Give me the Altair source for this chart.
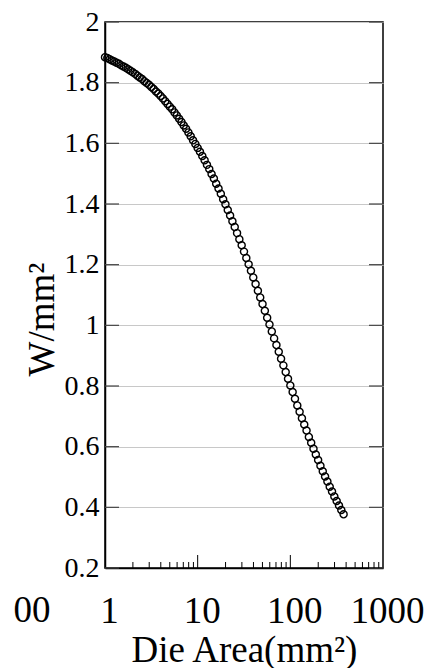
import altair as alt
import pandas as pd

# Die area (mm^2)
area = [
    1.000, 1.059, 1.122, 1.189, 1.259, 1.334, 1.413, 1.496, 1.585, 1.679,
    1.778, 1.884, 1.995, 2.113, 2.239, 2.371, 2.512, 2.661, 2.818, 2.985,
    3.162, 3.350, 3.548, 3.758, 3.981, 4.217, 4.467, 4.732, 5.012, 5.309,
    5.623, 5.957, 6.310, 6.683, 7.079, 7.499, 7.943, 8.414, 8.913, 9.441,
    10.00, 10.59, 11.22, 11.89, 12.59, 13.34, 14.13, 14.96, 15.85, 16.79,
    17.78, 18.84, 19.95, 21.13, 22.39, 23.71, 25.12, 26.61, 28.18, 29.85,
    31.62, 33.50, 35.48, 37.58, 39.81, 42.17, 44.67, 47.32, 50.12, 53.09,
    56.23, 59.57, 63.10, 66.83, 70.79, 74.99, 79.43, 84.14, 89.13, 94.41,
    100.0, 105.9, 112.2, 118.9, 125.9, 133.4, 141.3, 149.6, 158.5, 167.9,
    177.8, 188.4, 199.5, 211.3, 223.9, 237.1, 251.2, 266.1, 281.8, 298.5,
    316.2, 335.0, 354.8, 375.8,
]

# Power density (W/mm^2)
power = [
    1.884, 1.881, 1.877, 1.873, 1.870, 1.866, 1.862, 1.857, 1.853, 1.849,
    1.844, 1.839, 1.834, 1.829, 1.823, 1.817, 1.812, 1.805, 1.799, 1.793,
    1.786, 1.779, 1.771, 1.764, 1.756, 1.748, 1.739, 1.730, 1.721, 1.712,
    1.702, 1.692, 1.681, 1.670, 1.659, 1.648, 1.636, 1.623, 1.610, 1.598,
    1.585, 1.572, 1.558, 1.544, 1.529, 1.515, 1.499, 1.484, 1.467, 1.451,
    1.434, 1.416, 1.399, 1.380, 1.362, 1.343, 1.324, 1.304, 1.284, 1.264,
    1.243, 1.222, 1.201, 1.180, 1.158, 1.136, 1.114, 1.092, 1.070, 1.048,
    1.025, 1.003, 0.980, 0.957, 0.935, 0.913, 0.890, 0.868, 0.846, 0.824,
    0.802, 0.780, 0.758, 0.736, 0.715, 0.694, 0.673, 0.653, 0.632, 0.613,
    0.593, 0.574, 0.556, 0.537, 0.519, 0.502, 0.485, 0.468, 0.452, 0.436,
    0.421, 0.406, 0.391, 0.377,
]

y_ticks = [0.2, 0.4, 0.6, 0.8, 1.0, 1.2, 1.4, 1.6, 1.8, 2.0]
x_labels = [1, 10, 100, 1000]
x_minor = [2, 3, 4, 5, 6, 7, 8, 9, 20, 30, 40, 50, 60, 70, 80, 90,
           200, 300, 400, 500, 600, 700, 800, 900]
x_major_inner = [10, 100]
stray_text = ["00"]
stray_pos = [0.163]

W, H = 278, 546
FONT = "Liberation Serif"

xscale = alt.Scale(type="log", domain=[1, 1000])
yscale = alt.Scale(domain=[0.2, 2.0])

df = pd.DataFrame({"area": area, "power": power})
yt = pd.DataFrame({"area": [1] * len(y_ticks), "power": y_ticks})
xm = pd.DataFrame({"area": x_minor, "power": [0.2] * len(x_minor)})
xM = pd.DataFrame({"area": x_major_inner, "power": [0.2] * len(x_major_inner)})
st = pd.DataFrame({"area": stray_pos, "power": [0.2], "t": stray_text})

x_axis = alt.Axis(
    values=x_labels, format="d", title="Die Area(mm²)",
    grid=False, ticks=False, domain=True, domainColor="black", domainWidth=1.5,
    labelFont=FONT, labelFontSize=37, labelColor="black",
    labelBaseline="alphabetic", labelPadding=54, labelFlush=False,
    labelOverlap=False, labelOffset=4,
    titleFont=FONT, titleFontSize=37, titleFontWeight="normal", titleColor="black",
    titleBaseline="alphabetic", titleY=93, titleX=139, titleAlign="center",
)
y_axis = alt.Axis(
    values=y_ticks, format="~g", title="W/mm²",
    grid=True, gridColor="#c8c8c8", gridWidth=1,
    ticks=False, domain=True, domainColor="black", domainWidth=1.5,
    labelFont=FONT, labelFontSize=28, labelColor="black", labelPadding=6,
    labelOverlap=False, labelFlush=False,
    titleFont=FONT, titleFontSize=37, titleFontWeight="normal", titleColor="black",
    titleAngle=270, titleBaseline="alphabetic", titleAlign="center",
    titleX=-52, titleY=297,
)

X = alt.X("area:Q", scale=xscale, axis=x_axis)
Y = alt.Y("power:Q", scale=yscale, axis=y_axis)

points = alt.Chart(df).mark_point(
    shape="circle", filled=False, color="black", size=50, strokeWidth=1.4, opacity=1
).encode(x=X, y=Y)

left_ticks = alt.Chart(yt).mark_rule(color="#444444", strokeWidth=1.2).encode(
    y=Y, x=alt.value(0), x2=alt.value(14),
)
right_ticks = alt.Chart(yt).mark_rule(color="#444444", strokeWidth=1.2).encode(
    y=Y, x=alt.value(W - 14), x2=alt.value(W),
)
minor_ticks = alt.Chart(xm).mark_rule(color="black", strokeWidth=1).encode(
    x=X, y=alt.value(H), y2=alt.value(H - 6),
)
major_ticks = alt.Chart(xM).mark_rule(color="black", strokeWidth=1).encode(
    x=X, y=alt.value(H), y2=alt.value(H - 13),
)
stray = alt.Chart(st).mark_text(
    font=FONT, fontSize=37, color="black", align="center", baseline="alphabetic"
).encode(
    x=X, y=alt.value(H + 54), text="t:N",
)

chart = alt.layer(points, left_ticks, right_ticks, minor_ticks, major_ticks, stray).properties(
    width=W, height=H,
    padding={"left": 105, "top": 22, "right": 47, "bottom": 100},
    autosize=alt.AutoSizeParams(type="none"),
    background="white",
).configure(font=FONT).configure_view(stroke="black", strokeWidth=1.5)

chart.save("out.html", embed_options={"renderer": "svg", "actions": False})
